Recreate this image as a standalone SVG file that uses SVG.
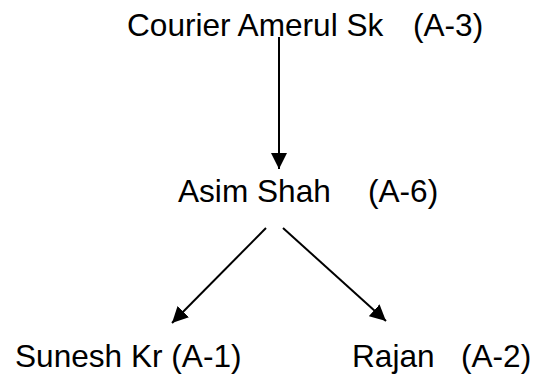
<svg xmlns="http://www.w3.org/2000/svg" width="534" height="375" viewBox="0 0 534 375">
<style>
text{font-family:"Liberation Sans",Arial,sans-serif;font-size:31.6px;fill:#000}
.c{stroke:#000;stroke-width:2;fill:none}
</style>
<defs>
<marker id="ah" viewBox="0 0 10 10" refX="10" refY="5" markerWidth="8" markerHeight="8" markerUnits="strokeWidth" orient="auto">
<path d="M0,0 L10,5 L0,10 Z" fill="#000"/>
</marker>
</defs>
<rect width="534" height="375" fill="#fff"/>
<g id="connectors">
<line class="c" x1="279" y1="37" x2="279" y2="169" marker-end="url(#ah)"/>
<line class="c" x1="266" y1="228" x2="172" y2="323" marker-end="url(#ah)"/>
<line class="c" x1="283" y1="228" x2="386" y2="321" marker-end="url(#ah)"/>
</g>
<g id="node-a3"><text x="127" y="36">Courier Amerul Sk</text><text x="413" y="36">(A-3)</text></g>
<g id="node-a6"><text x="178" y="202">Asim Shah</text><text x="368" y="202">(A-6)</text></g>
<g id="node-a1"><text x="15" y="367">Sunesh Kr (A-1)</text></g>
<g id="node-a2"><text x="352" y="367">Rajan</text><text x="461" y="367">(A-2)</text></g>
</svg>
